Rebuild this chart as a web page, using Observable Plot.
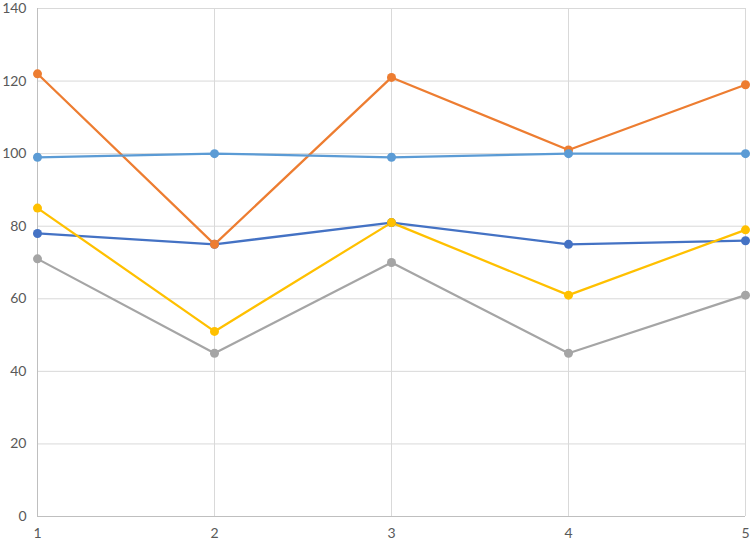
<!DOCTYPE html>
<html>
<head>
<meta charset="utf-8">
<script src="https://cdn.jsdelivr.net/npm/d3@7"></script>
<script src="https://cdn.jsdelivr.net/npm/@observablehq/plot@0.6"></script>
<style>
  html, body { margin: 0; padding: 0; background: #fff; }
  #chart { width: 750px; height: 545px; }
</style>
</head>
<body>
<div id="chart"></div>
<script>
const categories = [1, 2, 3, 4, 5];
const seriesNames = ["Series1", "Series2", "Series3", "Series4", "Series5"];
const series1 = [78, 75, 81, 75, 76];
const series2 = [122, 75, 121, 101, 119];
const series3 = [71, 45, 70, 45, 61];
const series4 = [85, 51, 81, 61, 79];
const series5 = [99, 100, 99, 100, 100];
const colors = ["#4472C4", "#ED7D31", "#A5A5A5", "#FFC000", "#5B9BD5"];
const yTicks = [0, 20, 40, 60, 80, 100, 120, 140];

const allSeries = [series1, series2, series3, series4, series5];
const data = [];
allSeries.forEach((vals, si) => {
  vals.forEach((v, i) => data.push({ series: seriesNames[si], x: categories[i], y: v }));
});

const chart = Plot.plot({
  width: 750,
  height: 545,
  marginLeft: 37,
  marginRight: 5,
  marginTop: 8,
  marginBottom: 29,
  style: { fontFamily: "Lato, 'Open Sans', sans-serif", fontSize: "14px", color: "#595959", background: "#fff" },
  x: { domain: [1, 5], ticks: categories, tickFormat: d => String(d), tickSize: 0, tickPadding: 12, label: null },
  y: { domain: [0, 140], ticks: yTicks, tickSize: 0, tickPadding: 12, label: null },
  color: { domain: seriesNames, range: colors },
  marks: [
    Plot.ruleY(yTicks, { stroke: "#d9d9d9", strokeWidth: 1 }),
    Plot.ruleX(categories, { stroke: "#d9d9d9", strokeWidth: 1 }),
    Plot.ruleY([0], { stroke: "#bfbfbf", strokeWidth: 1 }),
    Plot.ruleX([1], { stroke: "#bfbfbf", strokeWidth: 1 }),
    Plot.axisX({ ticks: categories, tickFormat: d => String(d), tickSize: 0, tickPadding: 12, fill: "#595959", fontSize: 14, label: null }),
    Plot.axisY({ ticks: yTicks, tickSize: 0, tickPadding: 11, fill: "#595959", fontSize: 14, label: null }),
    ...seriesNames.map(name => Plot.line(data.filter(d => d.series === name), { x: "x", y: "y", stroke: "series", strokeWidth: 2.25 })),
    ...seriesNames.map(name => Plot.dot(data.filter(d => d.series === name), { x: "x", y: "y", fill: "series", r: 4.5 }))
  ]
});
document.getElementById("chart").appendChild(chart);
</script>
</body>
</html>
